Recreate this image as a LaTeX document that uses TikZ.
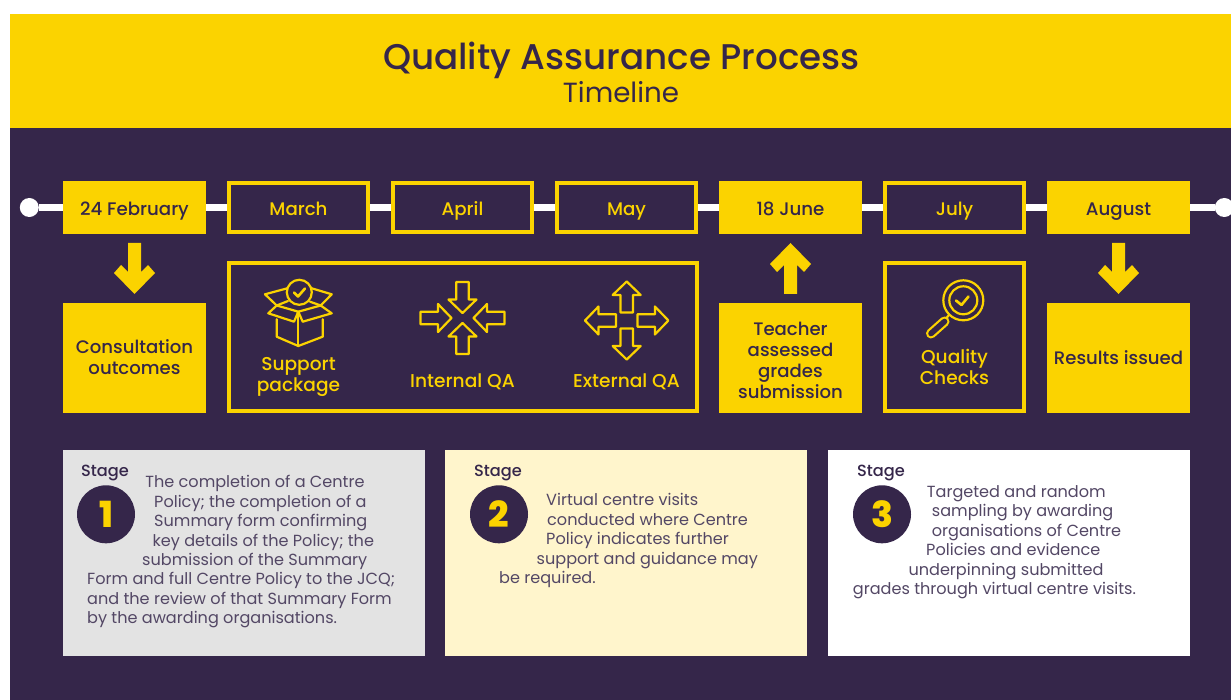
\documentclass[tikz,border=0pt]{standalone}
\usepackage{fontspec}
\setmainfont{Poppins}
\definecolor{navy}{HTML}{35264A}
\definecolor{gold}{HTML}{FBD300}
\definecolor{pale}{HTML}{FFF5CC}
\definecolor{grayp}{HTML}{E3E3E3}
\newfontfamily\medfont{Poppins Medium}
\newfontfamily\xbfont{Poppins ExtraBold}
\newcommand{\fs}[1]{\fontsize{#1}{21}\selectfont}
\tikzset{
 x=1pt,y=-1pt,
 datefill/.style={fill=gold,text=navy,minimum width=143pt,minimum height=53pt,inner sep=0pt,text height=16pt,text depth=0pt,font=\medfont\fs{18.2}},
 dateline/.style={draw=gold,line width=4pt,fill=navy,text=gold,minimum width=139pt,minimum height=49pt,inner sep=0pt,text height=16pt,text depth=0pt,font=\medfont\fs{18.2}},
 boxfill/.style={fill=gold,minimum width=143pt,minimum height=110pt,inner sep=0pt},
 boxtext/.style={text=navy,inner sep=0pt,align=center,font=\medfont\fs{18.1}},
 golddraw/.style={draw=gold,line width=4pt,fill=navy},
 lbl/.style={text=gold,align=center,inner sep=0pt,font=\medfont\fs{18.6}},
 icon/.style={draw=gold,line width=2.2pt,line join=round,line cap=round},
 para/.style={text=navy!85!white,inner sep=0pt,anchor=base west,font=\fs{16.1}},
 stagelbl/.style={text=navy,inner sep=0pt,anchor=base,font=\medfont\fs{16.2}},
 stagenum/.style={circle,fill=navy,text=gold,minimum size=58pt,inner sep=0pt,font=\xbfont\fs{36}},
 timeline/.style={draw=white,line width=6.5pt},
 bigarrow/.style={fill=gold},
 dot/.style={circle,fill=white,minimum size=19pt,inner sep=0pt},
}
% centre x, centre y, rotation, tail distance from centre
\newcommand{\arw}[4]{\begin{scope}[shift={(#1,#2)},rotate=#3] \draw[icon] (#4,-6.2) -- (#4+17.5,-6.2) -- (#4+17.5,-14) -- (#4+31,0) -- (#4+17.5,14) -- (#4+17.5,6.2) -- (#4,6.2) -- cycle; \end{scope}}
\begin{document}
\begin{tikzpicture}
\useasboundingbox (0,0) rectangle (1231,700);
\fill[white] (0,0) rectangle (1231,700);
\fill[gold] (10,14) rectangle (1231,128);
\fill[navy] (10,128) rectangle (1231,700);
\node[text=navy,inner sep=0pt,anchor=base,font=\medfont\fs{35.7}] (title) at (621.5,70) {Quality Assurance Process};
\node[text=navy,inner sep=0pt,anchor=base,font=\fs{27.7}] (sub) at (621,102.5) {Timeline};
% timeline
\node[dot] (dl) at (29.3,207.5) {};
\node[dot] (dr) at (1224.3,207.5) {};
\node[datefill] (d1) at (134.5,207.5) {24 February};
\node[dateline] (d2) at (298.5,207.5) {March};
\node[dateline] (d3) at (462.5,207.5) {April};
\node[dateline] (d4) at (626.5,207.5) {May};
\node[datefill] (d5) at (790.5,207.5) {18 June};
\node[dateline] (d6) at (954.5,207.5) {July};
\node[datefill] (d7) at (1118.5,207.5) {August};
\foreach \a/\b in {dl/d1,d1/d2,d2/d3,d3/d4,d4/d5,d5/d6,d6/d7,d7/dr}
  \draw[timeline] (\a) -- (\b);
% arrows
\fill[bigarrow] (128,243) -- (141,243) -- (141,272) -- (148,265) -- (155,273) -- (134.5,294) -- (114,273) -- (121,265) -- (128,272) -- cycle;
\fill[bigarrow] (1112,243) -- (1125,243) -- (1125,272) -- (1132,265) -- (1139,273) -- (1118.5,294) -- (1098,273) -- (1105,265) -- (1112,272) -- cycle;
\fill[bigarrow] (784,294) -- (797,294) -- (797,265) -- (804,272) -- (811,264) -- (790.5,243) -- (770,264) -- (777,272) -- (784,265) -- cycle;
% boxes
\node[boxfill] (b1) at (134.5,358) {};
\node[boxfill] (b5) at (790.5,358) {};
\node[boxfill] (b7) at (1118.5,358) {};
\node[boxtext] (t1) at (134.5,357) {Consultation\\outcomes};
\node[boxtext] (t5) at (790.5,360) {Teacher\\assessed\\grades\\submission};
\node[boxtext] (t7) at (1118.5,358) {Results issued};
\node[golddraw,minimum width=468pt,minimum height=147pt,inner sep=0pt] (b2) at (462.5,337) {};
\node[golddraw,minimum width=139pt,minimum height=147pt,inner sep=0pt] (b6) at (954.5,337) {};
\node[lbl] (l1) at (298.5,377) {Support\\package};
\node[lbl] (l2) at (462.5,382) {Internal QA};
\node[lbl] (l3) at (626.5,382) {External QA};
\node[lbl] (l4) at (954.5,367) {Quality\\Checks};
% box icon
\begin{scope}[icon]
 \draw (276.7,319.3) -- (276.7,336.7) -- (298.3,346) -- (322.7,336.7) -- (322.7,319.3);
 \draw (298.3,311.7) -- (298.3,346);
 \draw (298.3,311.7) -- (276.7,305.5) -- (268.3,313.3) -- (294,321.7) -- cycle;
 \draw (298.3,311.7) -- (320.7,305.5) -- (331.7,313.3) -- (302.7,321.7) -- cycle;
 \draw (287.3,288.3) -- (265,294.3) -- (276.7,305.5) -- (288,301);
 \draw (311.7,288.3) -- (331.7,294.3) -- (320.7,305.5) -- (310,301.7);
 \draw (299.3,292.3) circle (12.5);
 \draw[line width=2.6pt] (294,292.5) -- (298,296.5) -- (305,288.5);
\end{scope}
% inward and outward arrows
\arw{462.5}{318}{0}{-42}
\arw{462.5}{318}{180}{-42}
\arw{462.5}{318}{90}{-36}
\arw{462.5}{318}{270}{-36}
\arw{626.7}{320.5}{0}{10.7}
\arw{626.7}{320.5}{180}{10.7}
\arw{626.7}{320.5}{90}{8}
\arw{626.7}{320.5}{270}{8}
% magnifier
\begin{scope}[icon]
 \draw (963.3,300.3) circle (20);
 \draw (963.3,300.3) circle (14);
 \draw[line width=2.6pt] (956,300.5) -- (961.5,305) -- (968.5,296.5);
 \draw (949,315) -- (946,318.5);
 \draw[line width=10pt] (944.5,321.5) -- (931,333.5);
 \draw[draw=navy,line width=5.6pt] (944.5,321.5) -- (931,333.5);
\end{scope}
% panels
\fill[grayp] (63,450) rectangle (425,656);
\fill[pale] (445,450) rectangle (807,656);
\fill[white] (828,450) rectangle (1190,656);
\node[stagelbl] (s1) at (105,476.5) {Stage};
\node[stagelbl] (s2) at (498,476.5) {Stage};
\node[stagelbl] (s3) at (881,476.5) {Stage};
\node[stagenum] (n1) at (106,514.3) {1};
\node[stagenum] (n2) at (499,514.3) {2};
\node[stagenum] (n3) at (882,514.3) {3};
\node[para] (p11) at (145.2,487.5) {The completion of a Centre};
\node[para] (p12) at (154,507.2) {Policy; the completion of a};
\node[para] (p13) at (154,526.6) {Summary form confirming};
\node[para] (p14) at (152.5,546) {key details of the Policy; the};
\node[para] (p15) at (142,565.5) {submission of the Summary};
\node[para] (p16) at (87,584.8) {Form and full Centre Policy to the JCQ;};
\node[para] (p17) at (87,604) {and the review of that Summary Form};
\node[para] (p18) at (87,623.4) {by the awarding organisations.};
\node[para] (p21) at (546,505.6) {Virtual centre visits};
\node[para] (p22) at (547,525) {conducted where Centre};
\node[para] (p23) at (546,544.6) {Policy indicates further};
\node[para] (p24) at (536.5,564) {support and guidance may};
\node[para] (p25) at (499,583.4) {be required.};
\node[para] (p31) at (926.7,497.3) {Targeted and random};
\node[para] (p32) at (931.7,516.6) {sampling by awarding};
\node[para] (p33) at (931.7,536.3) {organisations of Centre};
\node[para] (p34) at (926,555.6) {Policies and evidence};
\node[para] (p35) at (908.3,575) {underpinning submitted};
\node[para] (p36) at (852.7,594.4) {grades through virtual centre visits.};
\end{tikzpicture}
\end{document}
